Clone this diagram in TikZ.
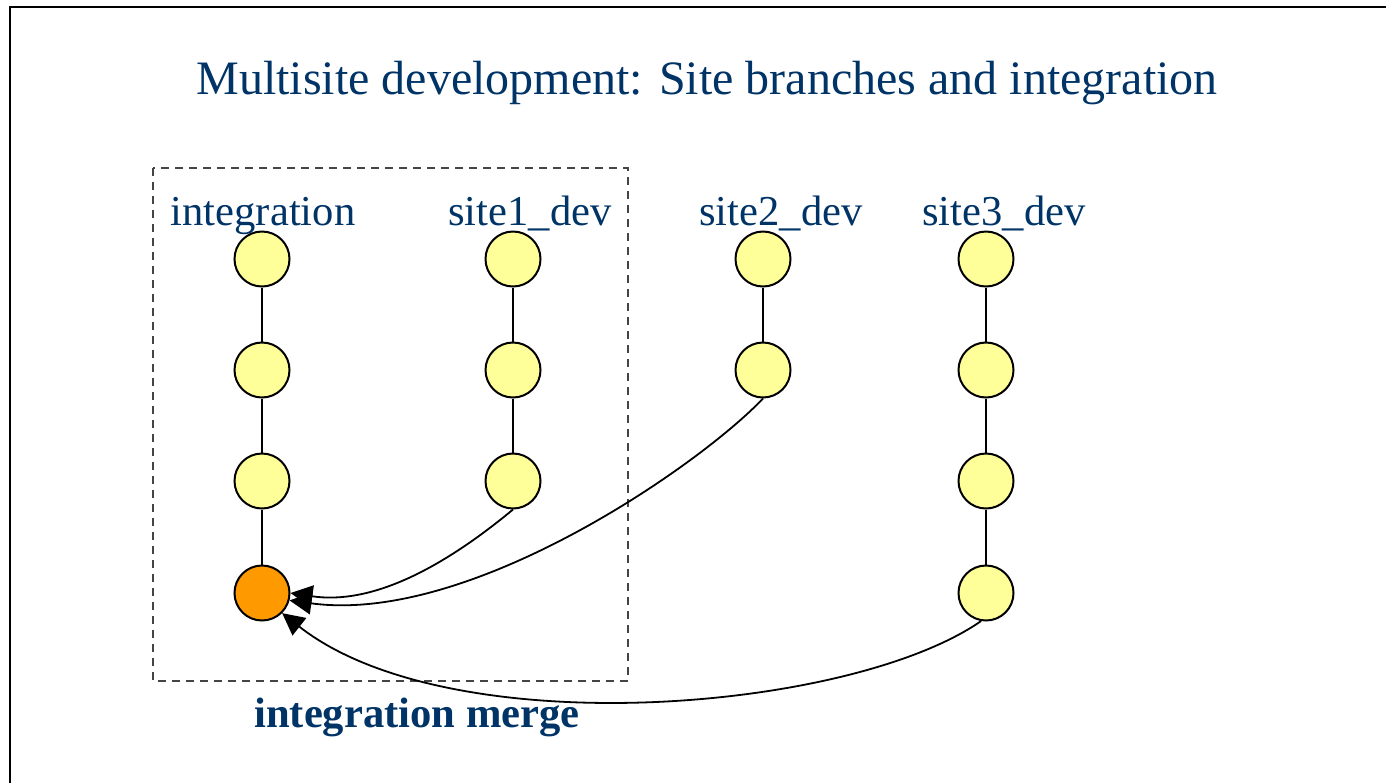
\documentclass[tikz,border=0pt]{standalone}
\usepackage{fontspec}
\setmainfont{Liberation Serif}
\usetikzlibrary{arrows.meta}
\definecolor{navy}{HTML}{003366}
\definecolor{commitfill}{HTML}{FFFF99}
\definecolor{mergefill}{HTML}{FF9900}
\definecolor{boxgray}{HTML}{444444}
\begin{document}
\begin{tikzpicture}[x=0.5pt,y=-0.5pt,
  commit/.style={circle,draw=black,line width=1pt,fill=commitfill,minimum size=27.5pt,inner sep=0pt},
  mergecommit/.style={commit,fill=mergefill},
  branchlabel/.style={anchor=base,text=navy,font=\fontsize{21.3}{25}\selectfont,inner sep=0pt},
  link/.style={line width=0.8pt,black},
  mergearrow/.style={line width=0.9pt,black,-{Triangle[length=11pt,width=11pt]}}]
\useasboundingbox (0,0) rectangle (1386,783);
% slide frame
\draw[line width=1.1pt] (10,783) -- (10,7) -- (1386,7);
% title
\node[anchor=base,text=navy,font=\fontsize{24}{28}\selectfont,inner sep=0pt] (title) at (707,94)
  {Multisite development: Site branches and integration};
% region being merged
\draw[boxgray,line width=0.7pt,dash pattern=on 4pt off 3pt] (153,168) rectangle (628,681);
% branch names
\node[branchlabel] (lint) at (263,225) {integration};
\node[branchlabel] (ls1) at (530,225) {site1\_dev};
\node[branchlabel] (ls2) at (781,225) {site2\_dev};
\node[branchlabel] (ls3) at (1004,225) {site3\_dev};
% integration branch
\node[commit] (i1) at (262,259) {};
\node[commit] (i2) at (262,370) {};
\node[commit] (i3) at (262,481) {};
\node[mergecommit] (i4) at (262,593) {};
% site1_dev
\node[commit] (a1) at (513,259) {};
\node[commit] (a2) at (513,370) {};
\node[commit] (a3) at (513,481) {};
% site2_dev
\node[commit] (b1) at (763,259) {};
\node[commit] (b2) at (763,370) {};
% site3_dev
\node[commit] (c1) at (986,259) {};
\node[commit] (c2) at (986,370) {};
\node[commit] (c3) at (986,481) {};
\node[commit] (c4) at (986,593) {};
% history lines
\draw[link] (i1) -- (i2) -- (i3) -- (i4);
\draw[link] (a1) -- (a2) -- (a3);
\draw[link] (b1) -- (b2);
\draw[link] (c1) -- (c2) -- (c3) -- (c4);
% merges into integration
\draw[mergearrow] (a3.south) .. controls (440,570) and (370,605) .. (i4.east);
\draw[mergearrow] (b2.south) .. controls (700,465) and (470,625) .. (i4.-15);
\draw[mergearrow] (c4.-100) .. controls (850,712) and (450,745) .. (i4.-45);
% caption
\node[anchor=base,text=navy,font=\bfseries\fontsize{21.3}{25}\selectfont,inner sep=0pt] (caption) at (417,727)
  {integration merge};
\end{tikzpicture}
\end{document}
